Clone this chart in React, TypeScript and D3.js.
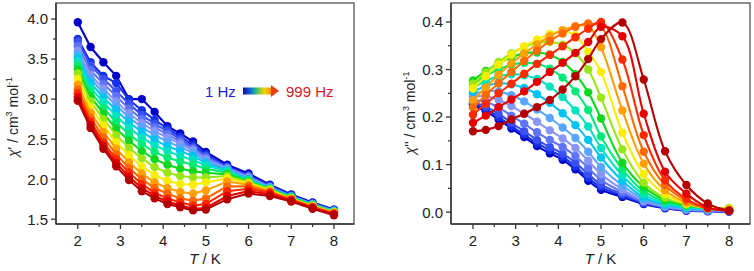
import React from "react";
import * as d3 from "d3";

const temps = [2, 2.3, 2.6, 2.9, 3.2, 3.5, 3.8, 4.1, 4.4, 4.7, 5.0, 5.5, 6.0, 6.5, 7.0, 7.5, 8.0];

const seriesColors = [
  "#0000c8", "#1430e8", "#3a50f2", "#5f74f6", "#8a96f6", "#5aa6ff", "#00c4f2", "#00e2c0",
  "#00ea78", "#10d820", "#9ae614", "#f8ee00", "#ffa000", "#ff6a00", "#ff2a00", "#e40000", "#b40000",
];

// chi' (cm3 mol-1), one row per frequency (1 Hz -> 999 Hz)
const chiPrime = [
  [3.96, 3.65, 3.46, 3.29, 3.00, 3.00, 2.84, 2.66, 2.57, 2.47, 2.34, 2.18, 2.07, 1.93, 1.81, 1.71, 1.62],
  [3.75, 3.46, 3.29, 3.20, 2.99, 2.86, 2.74, 2.63, 2.53, 2.43, 2.31, 2.16, 2.05, 1.92, 1.80, 1.70, 1.62],
  [3.72, 3.42, 3.25, 3.10, 2.94, 2.80, 2.69, 2.60, 2.50, 2.40, 2.29, 2.15, 2.04, 1.91, 1.79, 1.69, 1.61],
  [3.66, 3.36, 3.19, 3.04, 2.88, 2.75, 2.65, 2.56, 2.47, 2.38, 2.27, 2.14, 2.03, 1.90, 1.79, 1.69, 1.61],
  [3.60, 3.30, 3.13, 2.97, 2.82, 2.70, 2.60, 2.52, 2.44, 2.36, 2.25, 2.13, 2.02, 1.90, 1.78, 1.69, 1.60],
  [3.56, 3.25, 3.08, 2.92, 2.77, 2.65, 2.55, 2.47, 2.40, 2.33, 2.23, 2.12, 2.01, 1.89, 1.78, 1.68, 1.60],
  [3.52, 3.20, 3.02, 2.86, 2.71, 2.59, 2.49, 2.41, 2.35, 2.29, 2.20, 2.11, 2.00, 1.89, 1.78, 1.68, 1.60],
  [3.47, 3.14, 2.96, 2.79, 2.64, 2.52, 2.42, 2.35, 2.29, 2.24, 2.17, 2.10, 1.99, 1.88, 1.77, 1.68, 1.60],
  [3.42, 3.09, 2.89, 2.71, 2.56, 2.44, 2.34, 2.27, 2.22, 2.18, 2.13, 2.08, 1.98, 1.88, 1.77, 1.67, 1.59],
  [3.37, 3.03, 2.82, 2.63, 2.48, 2.35, 2.25, 2.18, 2.13, 2.10, 2.08, 2.06, 1.97, 1.87, 1.77, 1.67, 1.59],
  [3.32, 2.97, 2.75, 2.55, 2.39, 2.26, 2.15, 2.08, 2.04, 2.02, 2.02, 2.04, 1.96, 1.87, 1.76, 1.67, 1.59],
  [3.25, 2.90, 2.67, 2.46, 2.30, 2.16, 2.05, 1.98, 1.94, 1.93, 1.96, 2.01, 1.95, 1.86, 1.76, 1.66, 1.58],
  [3.18, 2.83, 2.59, 2.38, 2.21, 2.07, 1.96, 1.89, 1.84, 1.82, 1.86, 1.97, 1.93, 1.85, 1.75, 1.66, 1.58],
  [3.12, 2.77, 2.52, 2.31, 2.14, 2.00, 1.89, 1.82, 1.76, 1.73, 1.76, 1.91, 1.91, 1.84, 1.75, 1.65, 1.57],
  [3.07, 2.72, 2.46, 2.25, 2.08, 1.94, 1.83, 1.76, 1.71, 1.67, 1.69, 1.85, 1.88, 1.83, 1.74, 1.65, 1.57],
  [3.02, 2.68, 2.42, 2.20, 2.03, 1.89, 1.79, 1.72, 1.67, 1.63, 1.64, 1.79, 1.85, 1.81, 1.73, 1.64, 1.56],
  [2.98, 2.64, 2.38, 2.16, 1.99, 1.85, 1.76, 1.69, 1.65, 1.61, 1.62, 1.75, 1.82, 1.79, 1.72, 1.63, 1.55],
];

// chi'' (cm3 mol-1), one row per frequency (1 Hz -> 999 Hz)
const chiDoublePrime = [
  [0.225, 0.212, 0.195, 0.176, 0.158, 0.139, 0.124, 0.110, 0.090, 0.066, 0.047, 0.032, 0.017, 0.008, 0.003, 0.002, 0.001],
  [0.228, 0.217, 0.200, 0.181, 0.163, 0.145, 0.130, 0.116, 0.096, 0.072, 0.052, 0.035, 0.018, 0.009, 0.004, 0.002, 0.001],
  [0.231, 0.222, 0.207, 0.188, 0.170, 0.152, 0.137, 0.123, 0.104, 0.080, 0.058, 0.038, 0.020, 0.010, 0.004, 0.003, 0.002],
  [0.236, 0.232, 0.220, 0.203, 0.186, 0.168, 0.152, 0.137, 0.118, 0.093, 0.068, 0.042, 0.022, 0.011, 0.005, 0.003, 0.002],
  [0.242, 0.244, 0.236, 0.223, 0.207, 0.190, 0.172, 0.155, 0.135, 0.108, 0.080, 0.048, 0.024, 0.012, 0.006, 0.004, 0.003],
  [0.248, 0.255, 0.254, 0.246, 0.233, 0.216, 0.198, 0.178, 0.156, 0.127, 0.095, 0.056, 0.027, 0.014, 0.007, 0.005, 0.004],
  [0.254, 0.265, 0.271, 0.269, 0.261, 0.248, 0.230, 0.208, 0.183, 0.152, 0.115, 0.066, 0.031, 0.016, 0.009, 0.006, 0.005],
  [0.262, 0.276, 0.286, 0.290, 0.288, 0.280, 0.264, 0.242, 0.214, 0.180, 0.135, 0.077, 0.037, 0.019, 0.011, 0.007, 0.006],
  [0.270, 0.287, 0.300, 0.310, 0.314, 0.312, 0.302, 0.283, 0.254, 0.215, 0.159, 0.090, 0.044, 0.022, 0.013, 0.008, 0.007],
  [0.277, 0.297, 0.313, 0.326, 0.334, 0.336, 0.331, 0.316, 0.290, 0.252, 0.197, 0.104, 0.053, 0.026, 0.015, 0.009, 0.008],
  [0.270, 0.294, 0.316, 0.334, 0.348, 0.356, 0.358, 0.352, 0.334, 0.300, 0.241, 0.132, 0.062, 0.030, 0.016, 0.009, 0.008],
  [0.260, 0.286, 0.310, 0.331, 0.349, 0.363, 0.375, 0.380, 0.372, 0.337, 0.295, 0.167, 0.080, 0.038, 0.018, 0.009, 0.007],
  [0.235, 0.262, 0.289, 0.313, 0.334, 0.353, 0.370, 0.383, 0.391, 0.392, 0.347, 0.214, 0.102, 0.046, 0.020, 0.008, 0.005],
  [0.220, 0.246, 0.271, 0.295, 0.318, 0.340, 0.360, 0.376, 0.390, 0.397, 0.390, 0.265, 0.127, 0.057, 0.024, 0.008, 0.004],
  [0.205, 0.228, 0.250, 0.270, 0.291, 0.312, 0.331, 0.349, 0.368, 0.386, 0.400, 0.321, 0.162, 0.067, 0.028, 0.008, 0.003],
  [0.188, 0.203, 0.221, 0.237, 0.254, 0.274, 0.295, 0.314, 0.335, 0.358, 0.390, 0.370, 0.207, 0.085, 0.039, 0.010, 0.003],
  [0.170, 0.173, 0.181, 0.195, 0.207, 0.221, 0.236, 0.258, 0.286, 0.322, 0.364, 0.399, 0.279, 0.128, 0.057, 0.018, 0.003],
];

const xTicks = [2, 3, 4, 5, 6, 7, 8];
const xMinorTicks = [2.5, 3.5, 4.5, 5.5, 6.5, 7.5];
const yTicksLeft = [1.5, 2.0, 2.5, 3.0, 3.5, 4.0];
const yMinorLeft = [1.75, 2.25, 2.75, 3.25, 3.75];
const yTicksRight = [0.0, 0.1, 0.2, 0.3, 0.4];
const yMinorRight = [0.05, 0.15, 0.25, 0.35];

const FONT = "'Liberation Sans', Arial, Helvetica, sans-serif";

type PanelProps = {
  left: number;
  right: number;
  top: number;
  bottom: number;
  xDomain: [number, number];
  yDomain: [number, number];
  data: number[][];
  smooth: boolean;
  yTicks: number[];
  yMinor: number[];
  yLabelX: number;
  yLabelY: number;
  primes: string;
};

function Panel(p: PanelProps) {
  const x = d3.scaleLinear().domain(p.xDomain).range([p.left, p.right]);
  const y = d3.scaleLinear().domain(p.yDomain).range([p.bottom, p.top]);
  const line = d3
    .line<number>()
    .x((_, i) => x(temps[i]))
    .y((d) => y(d))
    .curve(p.smooth ? d3.curveCatmullRom.alpha(0.5) : d3.curveLinear);
  const axisColor = "#333";
  const cx = (p.left + p.right) / 2;
  return (
    <g>
      {p.data.map((row, k) => (
        <g key={k}>
          <path d={line(row) || ""} fill="none" stroke={seriesColors[k]} strokeWidth={2.1} />
          {row.map((v, i) => (
            <circle key={i} cx={x(temps[i])} cy={y(v)} r={4.2} fill={seriesColors[k]} />
          ))}
        </g>
      ))}
      <rect
        x={p.left}
        y={p.top}
        width={p.right - p.left}
        height={p.bottom - p.top}
        fill="none"
        stroke="#6a6a6a"
        strokeWidth={1.5}
      />
      <line x1={p.left} x2={p.right} y1={p.bottom} y2={p.bottom} stroke={axisColor} strokeWidth={1.4} />
      <line x1={p.left} x2={p.left} y1={p.top} y2={p.bottom} stroke={axisColor} strokeWidth={1.4} />
      {xTicks.map((t) => (
        <g key={"xt" + t}>
          <line x1={x(t)} x2={x(t)} y1={p.bottom} y2={p.bottom + 5} stroke={axisColor} strokeWidth={1.3} />
          <text x={x(t)} y={p.bottom + 22} textAnchor="middle" fontSize={15} fontFamily={FONT} fill="#222">
            {t}
          </text>
        </g>
      ))}
      {xMinorTicks.map((t) => (
        <line key={"xm" + t} x1={x(t)} x2={x(t)} y1={p.bottom} y2={p.bottom + 3} stroke={axisColor} strokeWidth={1.2} />
      ))}
      {p.yTicks.map((t) => (
        <g key={"yt" + t}>
          <line x1={p.left - 5} x2={p.left} y1={y(t)} y2={y(t)} stroke={axisColor} strokeWidth={1.3} />
          <text
            x={p.left - 8}
            y={y(t)}
            dy="0.36em"
            textAnchor="end"
            fontSize={15}
            fontFamily={FONT}
            fill="#222"
          >
            {t.toFixed(1)}
          </text>
        </g>
      ))}
      {p.yMinor.map((t) => (
        <line key={"ym" + t} x1={p.left - 3} x2={p.left} y1={y(t)} y2={y(t)} stroke={axisColor} strokeWidth={1.2} />
      ))}
      <text x={cx} y={264} textAnchor="middle" fontSize={15} fontFamily={FONT} fill="#222">
        <tspan fontStyle="italic">T</tspan>
        <tspan> / K</tspan>
      </text>
      <text
        transform={`translate(${p.yLabelX},${p.yLabelY}) rotate(-90)`}
        textAnchor="middle"
        fontSize={14}
        fontFamily={FONT}
        fill="#222"
      >
        <tspan fontStyle="italic">χ</tspan>
        <tspan>{p.primes + " / cm"}</tspan>
        <tspan fontSize={9} dy={-6}>3</tspan>
        <tspan dy={6}> mol</tspan>
        <tspan fontSize={9} dy={-6}>-1</tspan>
      </text>
    </g>
  );
}

export default function App() {
  return (
    <svg width={754} height={271} style={{ position: "absolute", left: 0, top: 0, background: "#fff" }}>
      <defs>
        <linearGradient id="freqGrad" x1="0" x2="1" y1="0" y2="0">
          <stop offset="0" stopColor="#10109a" />
          <stop offset="0.22" stopColor="#1a4fd8" />
          <stop offset="0.42" stopColor="#10b0a0" />
          <stop offset="0.6" stopColor="#90d030" />
          <stop offset="0.78" stopColor="#f8d000" />
          <stop offset="1" stopColor="#ff8c00" />
        </linearGradient>
      </defs>
      <rect x={0} y={0} width={754} height={271} fill="#fff" />
      <Panel
        left={56}
        right={354}
        top={3}
        bottom={224}
        xDomain={[1.49, 8.47]}
        yDomain={[1.44, 4.2]}
        data={chiPrime}
        smooth={false}
        yTicks={yTicksLeft}
        yMinor={yMinorLeft}
        yLabelX={18}
        yLabelY={117}
        primes="'"
      />
      <Panel
        left={451}
        right={750}
        top={3}
        bottom={224}
        xDomain={[1.485, 8.49]}
        yDomain={[-0.025, 0.44]}
        data={chiDoublePrime}
        smooth={true}
        yTicks={yTicksRight}
        yMinor={yMinorRight}
        yLabelX={415}
        yLabelY={113}
        primes={"''"}
      />
      <text x={205} y={97} fontSize={15} fontFamily={FONT} fill="#1c1cd6">
        1 Hz
      </text>
      <rect x={243} y={87.5} width={28} height={7} fill="url(#freqGrad)" />
      <path d="M271,85 L279,91 L271,97 Z" fill="#e8400a" />
      <text x={286} y={97} fontSize={15} fontFamily={FONT} fill="#e01818">
        999 Hz
      </text>
    </svg>
  );
}
